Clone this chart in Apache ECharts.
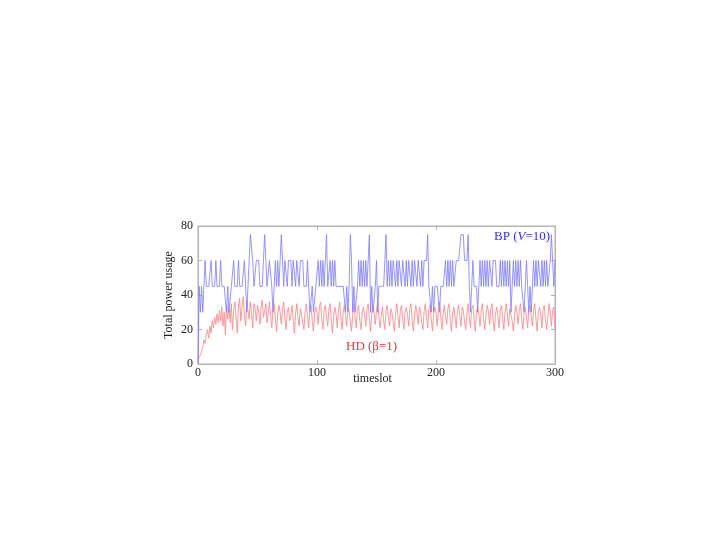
<!DOCTYPE html>
<html>
<head>
<meta charset="utf-8">
<script src="https://cdn.jsdelivr.net/npm/echarts@6/dist/echarts.min.js"></script>
<style>html,body{margin:0;padding:0;background:#fff;}#c{width:722px;height:544px;}</style>
</head>
<body>
<div id="c"></div>
<script>
// BP (V=10) total power usage per timeslot, t = 0..300
const bpValues = [
  0,45,30,45,30,45,60,45,45,45,45,60,45,45,45,60,45,45,45,60,
  45,45,45,45,30,45,30,30,45,45,60,45,45,45,60,45,45,45,45,60,
  60,30,45,60,75,75,60,45,45,60,60,60,45,45,45,60,75,60,45,45,
  60,60,45,30,45,60,45,60,45,60,75,60,45,60,60,45,60,60,60,45,
  60,60,45,60,60,45,60,60,60,45,45,45,60,45,30,30,45,30,30,45,
  45,60,45,60,45,60,45,60,75,45,45,60,45,60,45,60,45,45,45,45,
  45,45,45,45,30,45,30,45,75,60,30,45,30,30,45,60,45,60,45,60,
  45,60,45,60,75,30,45,30,30,45,60,30,45,45,45,45,45,60,75,45,
  60,45,60,45,60,60,45,60,45,60,60,45,60,60,45,60,45,60,60,45,
  60,45,60,60,45,60,60,45,60,45,60,60,60,75,45,45,30,45,30,45,
  45,45,45,30,45,45,45,45,60,45,60,45,60,45,60,45,45,60,60,60,
  60,75,75,75,60,60,60,75,45,30,45,60,45,45,45,30,45,60,45,60,
  45,60,45,60,45,60,60,45,60,60,60,45,45,45,60,45,60,45,60,45,
  60,45,60,30,45,60,45,60,45,60,45,60,45,45,30,45,60,45,30,45,
  30,45,60,45,60,45,60,60,45,60,45,60,45,60,45,45,60,75,60,45,
  60
];
// HD (beta=1) total power usage per timeslot, t = 0..300
const hdValues = [
  3,4,5,6,10,14,12,17,20,15,22,18,25,21,27,23,29,24,31,25,
  33,22,30,17,34,26,32,24,35,20,31,36,27,18,34,38,25,33,39,28,
  22,37,31,26,36,29,21,35,32,25,34,30,23,33,37,27,31,35,24,30,
  36,28,21,31,35,26,19,29,34,30,23,32,36,27,20,30,33,25,28,34,
  26,18,29,35,27,22,32,33,24,20,30,35,28,21,31,34,25,19,29,33,
  30,23,33,36,26,20,31,34,27,22,32,35,25,18,28,33,29,21,31,36,
  27,20,30,34,28,22,33,31,24,19,29,35,27,21,32,34,25,20,30,33,
  28,22,32,35,26,19,29,34,30,23,31,36,27,21,28,33,25,20,31,34,
  27,22,32,30,24,19,29,35,28,21,31,34,26,20,30,33,29,22,32,35,
  25,19,28,34,30,23,33,31,24,20,30,35,27,21,32,34,26,19,29,33,
  30,22,31,36,27,20,29,34,28,23,32,35,25,19,30,33,27,21,31,34,
  28,22,33,31,24,20,29,35,27,21,32,34,26,19,30,33,29,22,31,35,
  26,20,28,34,31,23,32,35,25,19,29,33,28,21,31,34,27,20,30,35,
  29,22,32,33,25,19,28,34,30,23,31,35,26,20,29,33,27,21,32,34,
  28,22,31,35,26,19,30,33,29,21,32,34,25,20,28,35,30,22,31,33,
  20
];
const xTicks = [0, 100, 200, 300];
const yTicks = [0, 20, 40, 60, 80];
const seriesNames = ['BP (V=10)', 'HD (β=1)'];

const font = '"Liberation Serif", "DejaVu Serif", serif';
const frame = '#b4b4b4';
const toPairs = arr => arr.map((v, i) => [i, v]);
const xMin = xTicks[0], xMax = xTicks[xTicks.length - 1];
const yMin = yTicks[0], yMax = yTicks[yTicks.length - 1];

function axisBase(extra) {
  return Object.assign({
    type: 'value',
    axisLine: {show: true, onZero: false, lineStyle: {color: frame, width: 1}},
    axisTick: {show: true, inside: true, length: 4, lineStyle: {color: frame, width: 1}},
    splitLine: {show: false}
  }, extra);
}

const chart = echarts.init(document.getElementById('c'), null, {renderer: 'canvas'});
chart.setOption({
  animation: false,
  backgroundColor: '#fff',
  grid: {left: 198, right: 167, top: 226, bottom: 180, show: true, borderColor: frame, borderWidth: 1, backgroundColor: 'transparent'},
  xAxis: [
    axisBase({
      gridIndex: 0, position: 'bottom', min: xMin, max: xMax, interval: 100,
      name: 'timeslot', nameLocation: 'middle', nameGap: 9, nameMoveOverlap: false,
      nameTextStyle: {fontFamily: font, fontSize: 12, color: '#222', padding: [0, 0, 0, -8]},
      axisLabel: {fontFamily: font, fontSize: 12, color: '#222', margin: 3}
    }),
    axisBase({
      gridIndex: 0, position: 'top', min: xMin, max: xMax, interval: 100,
      axisLabel: {show: false}
    })
  ],
  yAxis: [
    axisBase({
      gridIndex: 0, position: 'left', min: yMin, max: yMax, interval: 20,
      name: 'Total power usage', nameLocation: 'middle', nameGap: 23, nameRotate: 90,
      nameMoveOverlap: false,
      nameTextStyle: {fontFamily: font, fontSize: 12, color: '#222'},
      axisLabel: {fontFamily: font, fontSize: 12, color: '#222', margin: 5}
    }),
    axisBase({
      gridIndex: 0, position: 'right', min: yMin, max: yMax, interval: 20,
      axisLabel: {show: false}
    })
  ],
  series: [
    {
      name: seriesNames[0], type: 'line', data: toPairs(bpValues),
      xAxisIndex: 0, yAxisIndex: 0,
      showSymbol: false, symbol: 'none',
      lineStyle: {color: '#7b7bff', width: 0.8}, z: 3
    },
    {
      name: seriesNames[1], type: 'line', data: toPairs(hdValues),
      xAxisIndex: 0, yAxisIndex: 0,
      showSymbol: false, symbol: 'none',
      lineStyle: {color: '#ff8383', width: 0.8}, z: 2
    },
    {
      name: 'frame', type: 'line', data: [],
      xAxisIndex: 1, yAxisIndex: 1, silent: true, symbol: 'none'
    }
  ],
  graphic: [
    {
      type: 'text', left: 494, top: 230, z: 10,
      style: {
        text: '{n|BP (}{i|V}{n|=10)}',
        rich: {
          n: {fontFamily: font, fontSize: 13, fill: '#3030ff'},
          i: {fontFamily: font, fontSize: 13, fontStyle: 'italic', fill: '#3030ff'}
        }
      }
    },
    {
      type: 'text', left: 346, top: 340, z: 10,
      style: {text: 'HD (β=1)', fontFamily: font, fontSize: 13, fill: '#ff3030'}
    }
  ]
});
</script>
</body>
</html>
